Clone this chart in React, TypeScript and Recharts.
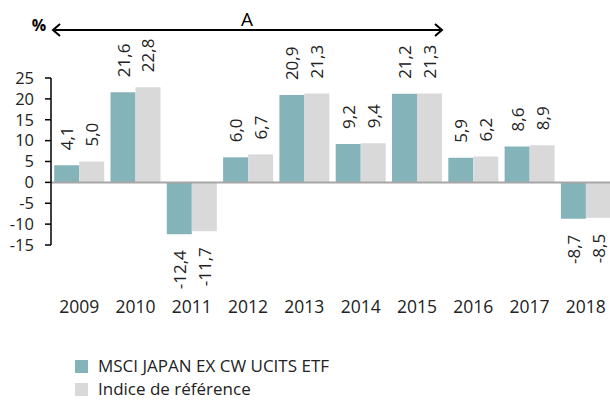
import React from 'react';
import { BarChart, Bar, XAxis, YAxis, ReferenceLine, LabelList } from 'recharts';

const years = ['2009', '2010', '2011', '2012', '2013', '2014', '2015', '2016', '2017', '2018'];
const fundValues = [4.1, 21.6, -12.4, 6.0, 20.9, 9.2, 21.2, 5.9, 8.6, -8.7];
const indexValues = [5.0, 22.8, -11.7, 6.7, 21.3, 9.4, 21.3, 6.2, 8.9, -8.5];
const yTicks = [-15, -10, -5, 0, 5, 10, 15, 20, 25];
const fundName = 'MSCI JAPAN EX CW UCITS ETF';
const indexName = 'Indice de référence';
const periodLabel = 'A';
const unitLabel = '%';

const data = years.map((y, i) => ({ year: y, fund: fundValues[i], index: indexValues[i] }));

const TEAL = '#84B4BA';
const GREY = '#D9D9D9';
const FONT = '"Open Sans", sans-serif';

const fmt = (v: number) => v.toFixed(1).replace('.', ',');

const ValueLabel = (props: any) => {
  const { x, y, width, height, value } = props;
  const cx = x + width / 2;
  const top = Math.min(y, y + height);
  const bottom = Math.max(y, y + height);
  if (value >= 0) {
    const py = top - 15;
    return (
      <text x={cx} y={py} transform={`rotate(-90 ${cx} ${py})`} textAnchor="start" dominantBaseline="central"
        fontSize={17} fill="#222" fontFamily={FONT}>{fmt(value)}</text>
    );
  }
  const py = bottom + 16;
  return (
    <text x={cx} y={py} transform={`rotate(-90 ${cx} ${py})`} textAnchor="end" dominantBaseline="central"
      fontSize={17} fill="#222" fontFamily={FONT}>{fmt(value)}</text>
  );
};

const YearTick = (props: any) => {
  const { x, payload } = props;
  return (
    <text x={x} y={313} textAnchor="middle" fontSize={17.5} fill="#222" fontFamily={FONT}>{payload.value}</text>
  );
};

const LegendBlock = () => (
  <div style={{ position: 'absolute', left: 75, top: 357, fontFamily: FONT, fontSize: 17, color: '#222', lineHeight: '18px' }}>
    {[{ n: fundName, c: TEAL }, { n: indexName, c: GREY }].map((it, i) => (
      <div key={it.n} style={{ display: 'flex', alignItems: 'center', whiteSpace: 'nowrap', height: 18, marginBottom: i === 0 ? 5 : 0 }}>
        <span style={{ display: 'inline-block', width: 13, height: 13, background: it.c, marginRight: 10 }} />
        <span>{it.n}</span>
      </div>
    ))}
  </div>
);

export default function App() {
  return (
    <div style={{ position: 'absolute', left: 0, top: 0, width: 610, height: 401, overflow: 'hidden', background: '#fff' }}>
      <BarChart width={614} height={401} data={data} margin={{ top: 78, right: 0, bottom: 126, left: 0 }}
        barCategoryGap="5.7%" barGap={0}>
        <XAxis dataKey="year" axisLine={false} tickLine={false} tick={<YearTick />} height={30} interval={0} />
        <YAxis domain={[-15, 25]} ticks={yTicks} width={51} axisLine={{ stroke: '#000', strokeWidth: 1.5 }}
          tickLine={{ stroke: '#000', strokeWidth: 1.5 }} tickSize={6} tickMargin={11}
          tick={{ fontSize: 16.5, fill: '#222', fontFamily: FONT }} interval={0} />
        <Bar dataKey="fund" fill={TEAL} isAnimationActive={false}>
          <LabelList dataKey="fund" content={<ValueLabel />} />
        </Bar>
        <Bar dataKey="index" fill={GREY} isAnimationActive={false}>
          <LabelList dataKey="index" content={<ValueLabel />} />
        </Bar>
        <ReferenceLine y={0} stroke="#A6A6A6" strokeWidth={2} />
      </BarChart>
      <LegendBlock />
      <svg width={610} height={60} style={{ position: 'absolute', left: 0, top: 0 }}>
        <text x={39} y={31} textAnchor="middle" fontSize={16} fontWeight="bold" fill="#000" fontFamily={FONT}>{unitLabel}</text>
        <line x1={53} y1={30} x2={442} y2={30} stroke="#000" strokeWidth={2} />
        <polyline points="60,24 53,30 60,36" fill="none" stroke="#000" strokeWidth={2} />
        <polyline points="435,24 442,30 435,36" fill="none" stroke="#000" strokeWidth={2} />
        <text x={247} y={26} textAnchor="middle" fontSize={19} fill="#000" fontFamily={FONT}>{periodLabel}</text>
      </svg>
    </div>
  );
}
